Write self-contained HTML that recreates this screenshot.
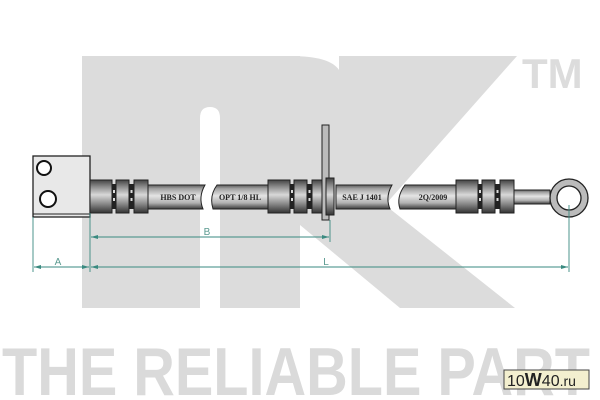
<!DOCTYPE html>
<html><head><meta charset="utf-8"><style>html,body{margin:0;padding:0;background:#fff;width:600px;height:400px;overflow:hidden}</style></head>
<body>
<svg width="600" height="400" viewBox="0 0 600 400" xmlns="http://www.w3.org/2000/svg">
<defs>
<linearGradient id="tube" x1="0" y1="0" x2="0" y2="1">
<stop offset="0" stop-color="#5a5a5a"/><stop offset="0.15" stop-color="#a0a0a0"/><stop offset="0.45" stop-color="#e4e4e4"/><stop offset="0.75" stop-color="#b0b0b0"/><stop offset="1" stop-color="#3a3a3a"/>
</linearGradient>
<linearGradient id="fit" x1="0" y1="0" x2="0" y2="1">
<stop offset="0" stop-color="#444"/><stop offset="0.2" stop-color="#8a8a8a"/><stop offset="0.45" stop-color="#d8d8d8"/><stop offset="0.7" stop-color="#909090"/><stop offset="1" stop-color="#333"/>
</linearGradient>
<g id="ferrule">
<rect x="0" y="180" width="22" height="33" fill="url(#fit)" stroke="#222" stroke-width="1"/>
<rect x="22" y="184" width="4" height="25" fill="#222"/>
<rect x="26" y="180" width="13" height="33" fill="url(#fit)" stroke="#222" stroke-width="1"/>
<rect x="39" y="184" width="5" height="25" fill="#222"/>
<rect x="44" y="180" width="14" height="33" fill="url(#fit)" stroke="#222" stroke-width="1"/>
<g fill="#ddd"><rect x="23" y="190" width="2" height="3"/><rect x="23" y="198" width="2" height="3"/><rect x="40.5" y="190" width="2" height="3"/><rect x="40.5" y="198" width="2" height="3"/></g>
</g>
</defs>
<g fill="#dcdcdc">
<path d="M82,56 H300 V308 H220 V118 Q220,107 210,107 Q200,107 200,118 V308 H82 Z"/>
<path d="M290,56 Q330,56 339,70 L339,56 H517 L385,205 L515,308 H400 L300,225 Z"/>
</g>
<text x="522" y="88" font-family="Liberation Sans, sans-serif" font-size="42" font-weight="bold" fill="#dcdcdc">TM</text>
<text x="2" y="395" font-family="Liberation Sans, sans-serif" font-size="68" font-weight="bold" fill="#dadada" textLength="588" lengthAdjust="spacingAndGlyphs">THE RELIABLE PART</text>
<rect x="504" y="370" width="85" height="19" fill="#f3efcf" stroke="#444" stroke-width="1"/>
<text x="507" y="386" font-family="Liberation Sans, sans-serif" font-size="16" fill="#222">10<tspan font-weight="bold" font-size="18">W</tspan>40<tspan font-size="14">.ru</tspan></text>
<rect x="33" y="156" width="57" height="61" fill="#e8e8e8" stroke="#222" stroke-width="1.3"/>
<line x1="33" y1="214" x2="90" y2="214" stroke="#222" stroke-width="1"/>
<circle cx="44" cy="168" r="7" fill="#fff" stroke="#111" stroke-width="2"/>
<circle cx="48" cy="199" r="8" fill="#fff" stroke="#111" stroke-width="2"/>
<g stroke="#222" stroke-width="1">
<path d="M148,185 H205 Q198,197 203,209 H148 Z" fill="url(#tube)"/>
<path d="M217,185 Q209,196 213,209 H270 V185 Z" fill="url(#tube)"/>
<path d="M336,185 H392 Q385,197 390,209 H336 Z" fill="url(#tube)"/>
<path d="M405,185 Q396,197 400,209 H458 V185 Z" fill="url(#tube)"/>
<rect x="514" y="190" width="36" height="14" fill="url(#tube)"/>
</g>
<use href="#ferrule" x="90"/>
<use href="#ferrule" x="268"/>
<use href="#ferrule" x="456"/>
<rect x="322" y="125" width="7" height="95" fill="#bbb" stroke="#222" stroke-width="1"/>
<rect x="326" y="178" width="8" height="37" fill="url(#fit)" stroke="#222" stroke-width="1"/>
<circle cx="569" cy="198" r="19" fill="#bbb" stroke="#222" stroke-width="1.3"/>
<circle cx="569" cy="198" r="12" fill="#fff" stroke="#222" stroke-width="1.3"/>
<g font-family="Liberation Serif, serif" font-size="8" font-weight="bold" fill="#222" text-anchor="middle">
<text x="178" y="200">HBS DOT</text>
<text x="240" y="200">OPT 1/8 HL</text>
<text x="362" y="200">SAE J 1401</text>
<text x="433" y="200">2Q/2009</text>
</g>
<g stroke="#3a8a80" stroke-width="0.9" fill="none">
<line x1="33" y1="217" x2="33" y2="272"/>
<line x1="90" y1="213" x2="90" y2="272"/>
<line x1="330" y1="220" x2="330" y2="242"/>
<line x1="569" y1="205" x2="569" y2="272"/>
<line x1="91" y1="237" x2="329" y2="237"/>
<line x1="34" y1="267" x2="89" y2="267"/>
<line x1="91" y1="267" x2="568" y2="267"/>
</g>
<g fill="#3a8a80">
<path d="M91,237 l7,-2 v4 z"/><path d="M329,237 l-7,-2 v4 z"/>
<path d="M34,267 l7,-2 v4 z"/><path d="M89,267 l-7,-2 v4 z"/>
<path d="M91,267 l7,-2 v4 z"/><path d="M568,267 l-7,-2 v4 z"/>
</g>
<g font-family="Liberation Sans, sans-serif" font-size="10" fill="#5a9a90" text-anchor="middle">
<text x="207" y="235">B</text>
<text x="58" y="265">A</text>
<text x="326" y="265">L</text>
</g>
</svg>
</body></html>
